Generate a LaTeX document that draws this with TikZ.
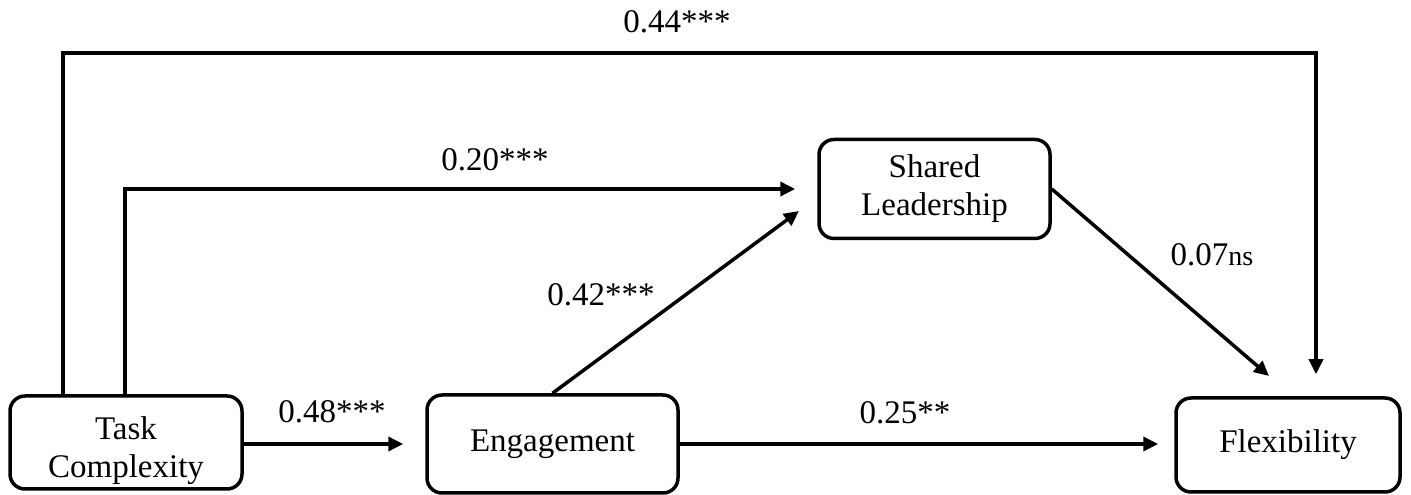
\documentclass[tikz,border=0pt]{standalone}
\usepackage{fontspec}
\setmainfont{Liberation Serif}
\usetikzlibrary{arrows.meta}

\begin{document}
\begin{tikzpicture}[x=1pt, y=1pt,
    var/.style={draw, line width=3.5pt, rounded corners=15pt, align=center,
      font=\fontsize{33}{38}\selectfont, inner sep=0pt},
    link/.style={line width=3.5pt, -{Triangle[length=15pt,width=14pt]}},
    coef/.style={font=\fontsize{33}{38}\selectfont, inner sep=0pt}]
    % fix the page size
    \useasboundingbox (0,0) rectangle (1411,495);

    % draw the variables
    \node[var, minimum width=232pt, minimum height=93pt, text height=78pt] (task) at (126,52.5) {Task\\Complexity};
    \node[var, minimum width=251pt, minimum height=98pt] (engage) at (552.5,51) {Engagement};
    \node[var, minimum width=231pt, minimum height=99pt] (shared) at (934.5,306) {Shared\\Leadership};
    \node[var, minimum width=224pt, minimum height=94pt] (flex) at (1288,50) {Flexibility};

    % corners of the long paths
    \coordinate (top44) at (63,442);
    \coordinate (corner44) at (1316,442);
    \coordinate (top20) at (125,306);
    \coordinate (in42) at (799,284);
    \coordinate (in07) at (1269,119);

    % add in the paths
    \draw[link, shorten >=22pt] (task.north -| top44) -- (top44) -- (corner44) -- (corner44 |- flex.north);
    \draw[link, shorten >=22pt] (task.north -| top20) -- (top20) -- (shared.west);
    \draw[link, shorten >=22pt] (task.east |- engage.west) -- (engage.west);
    \draw[link] (engage.north) -- (in42);
    \draw[link, shorten >=16pt] (engage.east) -- (engage.east -| flex.west);
    \draw[link] (shared.east) -- (in07);

    % the coefficients
    \node[coef] (c44) at (677,473) {0.44***};
    \node[coef] (c20) at (495,335) {0.20***};
    \node[coef] (c42) at (601,200) {0.42***};
    \node[coef] (c48) at (332,83) {0.48***};
    \node[coef] (c25) at (905,82) {0.25**};
    \node[coef] (c07) at (1212,240) {0.07{\fontsize{28}{30}\selectfont ns}};
  \end{tikzpicture}
\end{document}
